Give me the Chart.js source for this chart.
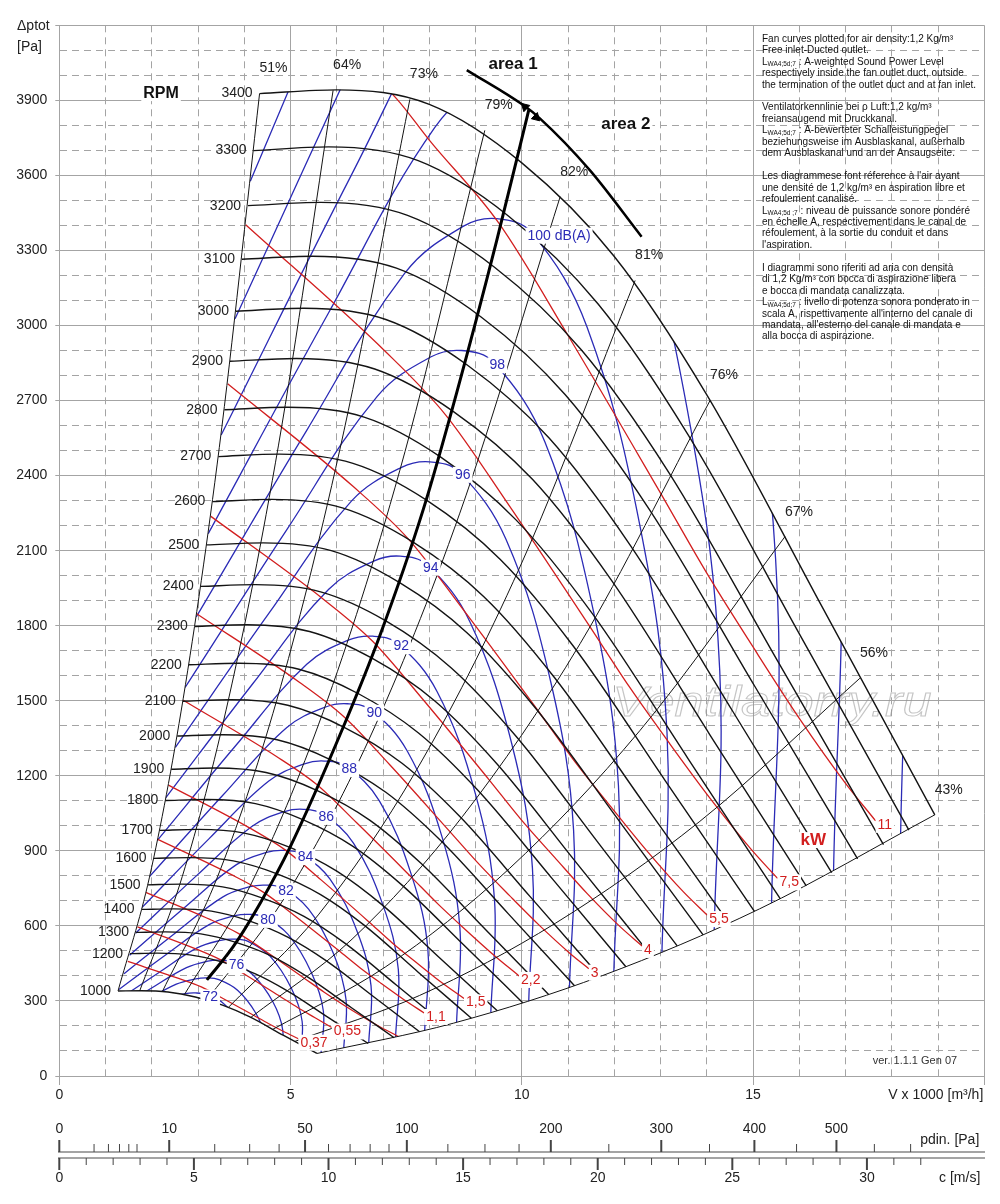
<!DOCTYPE html>
<html>
<head>
<meta charset="utf-8">
<title>Fan curves</title>
<script src="https://cdn.jsdelivr.net/npm/chart.js@4.4.1/dist/chart.umd.min.js"></script>
<style>
  html, body { margin: 0; padding: 0; background: #fff; }
  #wrap { position: relative; width: 1000px; height: 1204px; }
  #main { position: absolute; left: 0; top: 0; }
  #under { position: absolute; left: 0; top: 1100px; }
</style>
</head>
<body>
<div id="wrap">
  <canvas id="main" width="1000" height="1204"></canvas>
  <canvas id="under" width="1000" height="104"></canvas>
</div>
<script>
// ---- fan speed curves (V x 1000 m3/h, total pressure Pa) ----
const rpmValues = [1000, 1200, 1300, 1400, 1500, 1600, 1700, 1800, 1900, 2000, 2100, 2200,
  2300, 2400, 2500, 2600, 2700, 2800, 2900, 3000, 3100, 3200, 3300, 3400];
const rpmFlow = [
  [1.27, 1.77, 2.35, 2.94, 3.53, 4.12, 4.85, 5.57],
  [1.53, 2.12, 2.82, 3.53, 4.24, 4.94, 5.82, 6.68],
  [1.66, 2.29, 3.06, 3.82, 4.59, 5.35, 6.31, 7.24],
  [1.78, 2.47, 3.29, 4.12, 4.94, 5.76, 6.79, 7.79],
  [1.91, 2.65, 3.53, 4.41, 5.29, 6.18, 7.28, 8.35],
  [2.04, 2.82, 3.76, 4.71, 5.65, 6.59, 7.76, 8.91],
  [2.17, 3.00, 4.00, 5.00, 6.00, 7.00, 8.25, 9.47],
  [2.29, 3.18, 4.24, 5.29, 6.35, 7.41, 8.74, 10.02],
  [2.42, 3.35, 4.47, 5.59, 6.71, 7.82, 9.22, 10.58],
  [2.55, 3.53, 4.71, 5.88, 7.06, 8.24, 9.71, 11.14],
  [2.67, 3.71, 4.94, 6.18, 7.41, 8.65, 10.19, 11.69],
  [2.80, 3.88, 5.18, 6.47, 7.76, 9.06, 10.68, 12.25],
  [2.93, 4.06, 5.41, 6.76, 8.12, 9.47, 11.16, 12.81],
  [3.06, 4.24, 5.65, 7.06, 8.47, 9.88, 11.65, 13.36],
  [3.18, 4.41, 5.88, 7.35, 8.82, 10.29, 12.13, 13.92],
  [3.31, 4.59, 6.12, 7.65, 9.18, 10.71, 12.62, 14.48],
  [3.44, 4.76, 6.35, 7.94, 9.53, 11.12, 13.10, 15.03],
  [3.57, 4.94, 6.59, 8.24, 9.88, 11.53, 13.59, 15.59],
  [3.69, 5.12, 6.82, 8.53, 10.24, 11.94, 14.07, 16.15],
  [3.82, 5.29, 7.06, 8.82, 10.59, 12.35, 14.56, 16.70],
  [3.95, 5.47, 7.29, 9.12, 10.94, 12.76, 15.04, 17.26],
  [4.08, 5.65, 7.53, 9.41, 11.29, 13.18, 15.53, 17.82],
  [4.20, 5.82, 7.76, 9.71, 11.65, 13.59, 16.01, 18.37],
  [4.33, 6.00, 8.00, 10.00, 12.00, 14.00, 16.50, 18.93]
];
const rpmPressure = [
  [340, 341, 336, 316, 283, 236, 162, 90],
  [489, 491, 484, 455, 408, 339, 233, 130],
  [574, 576, 568, 534, 479, 398, 274, 153],
  [666, 668, 659, 619, 555, 462, 318, 177],
  [764, 767, 756, 710, 638, 530, 365, 203],
  [870, 873, 860, 808, 725, 603, 415, 231],
  [982, 986, 971, 913, 819, 681, 468, 261],
  [1101, 1105, 1089, 1023, 918, 763, 525, 293],
  [1226, 1231, 1213, 1140, 1023, 850, 585, 326],
  [1359, 1364, 1344, 1263, 1134, 942, 648, 361],
  [1498, 1504, 1482, 1392, 1250, 1039, 715, 398],
  [1644, 1650, 1626, 1528, 1372, 1140, 784, 437],
  [1797, 1804, 1777, 1670, 1499, 1246, 857, 478],
  [1957, 1964, 1935, 1819, 1632, 1357, 933, 520],
  [2123, 2131, 2100, 1973, 1771, 1472, 1013, 564],
  [2296, 2305, 2271, 2134, 1916, 1592, 1095, 611],
  [2476, 2486, 2449, 2302, 2066, 1717, 1181, 658],
  [2663, 2673, 2634, 2475, 2222, 1847, 1270, 708],
  [2857, 2868, 2826, 2655, 2383, 1981, 1363, 760],
  [3057, 3069, 3024, 2842, 2550, 2120, 1458, 813],
  [3265, 3277, 3229, 3034, 2723, 2264, 1557, 868],
  [3479, 3492, 3440, 3233, 2902, 2412, 1659, 925],
  [3699, 3714, 3659, 3438, 3086, 2565, 1764, 983],
  [3927, 3942, 3884, 3650, 3276, 2723, 1873, 1044]
];

// ---- efficiency lines (first = left limit, last = right limit) ----
const effLabels = ['51%', '64%', '73%', '79%', '82%', '81%', '76%', '67%', '56%', '43%'];
const effFlow = [
  [1.27, 1.95, 2.68, 3.46, 4.33],
  [1.74, 2.66, 3.67, 4.74, 5.92],
  [2.23, 3.41, 4.70, 6.06, 7.58],
  [2.71, 4.14, 5.70, 7.36, 9.20],
  [3.19, 4.87, 6.71, 8.66, 10.83],
  [3.66, 5.60, 7.72, 9.96, 12.45],
  [4.14, 6.33, 8.72, 11.26, 14.07],
  [4.61, 7.06, 9.73, 12.55, 15.69],
  [5.09, 7.79, 10.73, 13.85, 17.31],
  [5.57, 8.52, 11.74, 15.14, 18.93]
];
const effPressure = [
  [340, 795, 1510, 2513, 3927],
  [341, 798, 1515, 2522, 3940],
  [338, 791, 1501, 2499, 3904],
  [327, 765, 1453, 2419, 3780],
  [304, 712, 1351, 2250, 3515],
  [275, 644, 1222, 2035, 3180],
  [234, 547, 1038, 1728, 2700],
  [186, 437, 829, 1380, 2156],
  [138, 322, 611, 1018, 1590],
  [90, 211, 401, 668, 1044]
];

// ---- motor power lines, kW ----
const powerLabels = ['0,37', '0,55', '', '1,1', '1,5', '2,2', '3', '4', '5,5', '7,5', '11'];
const powerFlow = [
  [1.48, 2.58, 3.07, 3.55, 4.20, 4.52, 4.84, 5.17],
  [1.69, 2.95, 3.50, 4.05, 4.79, 5.16, 5.53, 5.89],
  [1.87, 3.27, 3.88, 4.50, 5.31, 5.72, 6.13, 6.54, 6.95, 7.21, 7.40],
  [2.13, 3.71, 4.41, 5.11, 6.04, 6.50, 6.96, 7.43, 7.89],
  [2.36, 4.12, 4.89, 5.66, 6.69, 7.20, 7.72, 8.23, 8.75],
  [2.68, 4.68, 5.56, 6.43, 7.60, 8.19, 8.77, 9.36, 9.94],
  [2.97, 5.19, 6.16, 7.14, 8.43, 9.08, 9.73, 10.38, 11.03, 11.45],
  [3.27, 5.71, 6.78, 7.85, 9.28, 9.99, 10.71, 11.42, 12.13, 12.60],
  [3.64, 6.35, 7.54, 8.73, 10.32, 11.11, 11.91, 12.70, 13.49, 14.01],
  [4.03, 7.04, 8.36, 9.68, 11.44, 12.32, 13.20, 14.08, 14.96, 15.53],
  [4.58, 7.30, 8.00, 9.50, 11.00, 13.00, 14.00, 15.00, 16.00, 17.00, 17.65]
];
const powerPressure = [
  [458, 390, 356, 309, 243, 210, 179, 149],
  [596, 508, 463, 402, 316, 273, 233, 194],
  [734, 625, 569, 494, 389, 336, 286, 239, 195, 170, 150],
  [946, 806, 735, 638, 502, 433, 370, 308, 252],
  [1163, 991, 903, 784, 617, 532, 454, 379, 310],
  [1502, 1279, 1166, 1012, 797, 687, 587, 489, 400],
  [1848, 1574, 1435, 1245, 980, 846, 722, 602, 492, 429],
  [2238, 1906, 1737, 1508, 1187, 1024, 874, 728, 596, 520],
  [2767, 2357, 2148, 1865, 1468, 1266, 1080, 901, 737, 643],
  [3403, 2898, 2641, 2293, 1805, 1557, 1328, 1108, 906, 790],
  [4393, 3905, 3741, 3410, 2960, 2330, 2010, 1715, 1430, 1170, 1020]
];

// ---- sound power level curves, dB(A) ----
const soundLevels = [72, 74, 76, 78, 80, 82, 84, 86, 88, 90, 92, 94, 96, 98, 100, 102, 104, 106, 108];
const soundLabels = ['72', '', '76', '', '80', '82', '84', '86', '88', '90', '92', '94', '96', '98', '100 dB(A)', '', '', '', ''];
const soundFlow = [
  [0.92, 1.66, 2.32, 2.72, 2.94, 3.18, 3.55, 3.91, 4.09, 4.05],
  [1.00, 1.81, 2.53, 2.95, 3.20, 3.45, 3.86, 4.25, 4.44, 4.41],
  [1.09, 1.97, 2.75, 3.21, 3.48, 3.75, 4.19, 4.62, 4.83, 4.79],
  [1.18, 2.14, 2.98, 3.49, 3.78, 4.08, 4.56, 5.02, 5.25, 5.21],
  [1.29, 2.32, 3.24, 3.80, 4.11, 4.43, 4.95, 5.45, 5.71, 5.66],
  [1.40, 2.53, 3.53, 4.13, 4.47, 4.82, 5.39, 5.93, 6.20, 6.15],
  [1.52, 2.74, 3.83, 4.48, 4.85, 5.24, 5.85, 6.44, 6.74, 6.69],
  [1.65, 2.98, 4.17, 4.87, 5.28, 5.69, 6.36, 7.00, 7.33, 7.27],
  [1.79, 3.24, 4.53, 5.30, 5.73, 6.19, 6.92, 7.61, 7.97, 7.90],
  [1.95, 3.53, 4.92, 5.76, 6.23, 6.73, 7.52, 8.28, 8.66, 8.59],
  [2.12, 3.83, 5.35, 6.26, 6.78, 7.31, 8.17, 9.00, 9.41, 9.33],
  [2.30, 4.17, 5.82, 6.81, 7.37, 7.95, 8.88, 9.78, 10.23, 10.15],
  [2.51, 4.53, 6.32, 7.40, 8.01, 8.64, 9.66, 10.63, 11.12, 11.03],
  [2.72, 4.92, 6.87, 8.04, 8.70, 9.39, 10.50, 11.55, 12.09, 11.99],
  [2.96, 5.35, 7.47, 8.74, 9.46, 10.21, 11.41, 12.56, 13.14, 13.03],
  [3.22, 5.82, 8.12, 9.50, 10.28, 11.10, 12.40, 13.65, 14.28, 14.16],
  [3.50, 6.32, 8.83, 10.33, 11.18, 12.06, 13.48, 14.84, 15.53, 15.40],
  [3.80, 6.87, 9.59, 11.23, 12.15, 13.11, 14.65, 16.13, 16.88, 16.74],
  [4.13, 7.47, 10.43, 12.20, 13.21, 14.25, 15.93, 17.54, 18.35, 18.19]
];
const soundPressure = [
  [178, 250, 310, 329, 332, 326, 290, 212, 133, 48],
  [210, 295, 367, 388, 392, 385, 342, 251, 157, 56],
  [248, 349, 433, 459, 463, 455, 404, 296, 185, 66],
  [293, 412, 512, 542, 547, 538, 478, 350, 219, 79],
  [346, 487, 605, 641, 646, 636, 565, 414, 259, 93],
  [409, 575, 715, 757, 763, 751, 667, 489, 305, 110],
  [483, 679, 845, 894, 902, 887, 788, 578, 361, 130],
  [571, 803, 998, 1057, 1066, 1048, 931, 682, 426, 153],
  [674, 949, 1179, 1248, 1259, 1239, 1100, 806, 504, 181],
  [797, 1121, 1393, 1475, 1488, 1464, 1300, 953, 595, 214],
  [942, 1324, 1646, 1743, 1758, 1730, 1536, 1126, 703, 252],
  [1112, 1565, 1945, 2059, 2078, 2044, 1815, 1330, 831, 298],
  [1314, 1849, 2299, 2433, 2455, 2415, 2145, 1572, 982, 352],
  [1553, 2184, 2716, 2875, 2900, 2853, 2534, 1857, 1160, 416],
  [1835, 2581, 3209, 3397, 3427, 3371, 2994, 2194, 1371, 492],
  [2168, 3050, 3792, 4014, 4049, 3983, 3538, 2592, 1620, 581],
  [2562, 3603, 4480, 4743, 4784, 4706, 4180, 3063, 1914, 687],
  [3027, 4258, 5294, 5604, 5653, 5561, 4939, 3619, 2262, 812],
  [3577, 5031, 6255, 6621, 6680, 6571, 5836, 4276, 2672, 959]
];

// ---- area 1 / area 2 separation ----
const dividerFlow = [3.19, 3.76, 4.34, 4.99, 6.14, 6.93, 7.87, 8.59, 9.46, 10.15];
const dividerPressure = [384, 517, 690, 915, 1395, 1760, 2265, 2730, 3341, 3861];
const areaFlow = [8.81, 10.03, 10.39, 11.47, 12.59];
const areaPressure = [4021, 3881, 3828, 3621, 3355];
const arrowFlow = [10.07, 10.31];
const arrowPressure = [3874, 3832];

// ---- lower auxiliary scales ----
const flowMax = 20;
const speedAtFlowMax = 34.36;      // c [m/s] at 20 000 m3/h
const pdinTicks = [0, 1, 2, 3, 4, 5, 10, 20, 30, 40, 50, 60, 70, 80, 90, 100, 125, 150, 175, 200,
  250, 300, 350, 400, 450, 500, 550, 600];
const pdinLabelled = [0, 10, 50, 100, 200, 300, 400, 500];
const speedTicks = [0, 1, 2, 3, 4, 5, 6, 7, 8, 9, 10, 11, 12, 13, 14, 15, 16, 17, 18, 19, 20,
  21, 22, 23, 24, 25, 26, 27, 28, 29, 30, 31, 32];

const noteLines = [
  'Fan curves plotted for air density:1,2 Kg/m³',
  'Free inlet-Ducted outlet.',
  ['L', 'WA4;5d;7', ' : A-weighted Sound Power Level'],
  'respectively inside the fan outlet duct, outside',
  'the termination of the outlet duct and at fan inlet.',
  '',
  'Ventilatorkennlinie bei ρ Luft:1,2 kg/m³',
  'freiansaugend mit Druckkanal.',
  ['L', 'WA4;5d;7', ' : A-bewerteter Schalleistungpegel'],
  'beziehungsweise im Ausblaskanal, außerhalb',
  'dem Ausblaskanal und an der Ansaugseite.',
  '',
  'Les diagrammese font réference à l\'air ayant',
  'une densité de 1,2 kg/m³ en aspiration libre et',
  'refoulement canalisé.',
  ['L', 'WA4;5d ;7', ' : niveau de puissance sonore pondéré'],
  'en échelle A, respectivement dans le canal de',
  'réfoulement, à la sortie du conduit et dans',
  'l\'aspiration.',
  '',
  'I diagrammi sono riferiti ad aria con densità',
  'di 1,2 Kg/m³ con bocca di aspirazione libera',
  'e bocca di mandata canalizzata.',
  ['L', 'WA4;5d;7', ' : livello di potenza sonora ponderato in'],
  'scala A, rispettivamente all\'interno del canale di',
  'mandata, all\'esterno del canale di mandata e',
  'alla bocca di aspirazione.'
];

const FONT = "'Liberation Sans', Arial, Helvetica, sans-serif";
const GRID = '#a4a4a4';
const BLACK = '#141414';
const BLUE = '#2b2bb6';
const RED = '#d21f1f';

function pts(xs, ys) {
  return xs.map((x, i) => ({ x: x, y: ys[i] }));
}

const datasets = [];
function addLine(xs, ys, color, width, order, extra) {
  datasets.push(Object.assign({
    data: pts(xs, ys),
    showLine: true,
    borderColor: color,
    backgroundColor: color,
    borderWidth: width,
    pointRadius: 0,
    pointHoverRadius: 0,
    pointHitRadius: 0,
    fill: false,
    order: order,
    cubicInterpolationMode: 'monotone'
  }, extra || {}));
  return datasets.length - 1;
}

const rpmIdx = rpmValues.map((n, i) => addLine(rpmFlow[i], rpmPressure[i], BLACK, 1.4, 2));
const effIdx = effLabels.map((l, i) => addLine(effFlow[i], effPressure[i], BLACK, 1, 2));
const powerIdx = powerLabels.map((l, i) =>
  addLine(powerFlow[i], powerPressure[i], RED, 1.3, 3, { clipRegion: true }));
const soundIdx = soundLevels.map((l, i) =>
  addLine(soundFlow[i], soundPressure[i], BLUE, 1.3, 4,
    { clipRegion: true, cubicInterpolationMode: 'default', tension: 0.38 }));
addLine(dividerFlow, dividerPressure, '#000', 3, 1);
addLine(areaFlow, areaPressure, '#000', 2.5, 1);
datasets.push({
  data: pts(arrowFlow, arrowPressure),
  showLine: false,
  pointStyle: 'triangle',
  pointRadius: 5,
  pointRotation: [-46, 134],
  backgroundColor: '#000',
  borderColor: '#000',
  borderWidth: 1,
  order: 0
});

// working field: left limit, top speed, right limit, lowest speed
const regionParts = [
  [effIdx[0], false],
  [rpmIdx[rpmIdx.length - 1], false],
  [effIdx[effIdx.length - 1], true],
  [rpmIdx[0], true]
];

function regionPath(chart) {
  const ctx = chart.ctx;
  let first = true;
  ctx.beginPath();
  regionParts.forEach(([i, rev]) => {
    const meta = chart.getDatasetMeta(i);
    meta.dataset.updateControlPoints(chart.chartArea, 'x');
    const list = rev ? meta.data.slice().reverse() : meta.data;
    list.forEach((pt, k) => {
      if (k === 0) {
        if (first) { ctx.moveTo(pt.x, pt.y); first = false; } else { ctx.lineTo(pt.x, pt.y); }
        return;
      }
      const prev = list[k - 1];
      if (rev) {
        ctx.bezierCurveTo(prev.cp1x, prev.cp1y, pt.cp2x, pt.cp2y, pt.x, pt.y);
      } else {
        ctx.bezierCurveTo(prev.cp2x, prev.cp2y, pt.cp1x, pt.cp1y, pt.x, pt.y);
      }
    });
  });
  ctx.closePath();
}

const clipPlugin = {
  id: 'regionClip',
  beforeDatasetDraw(chart, args) {
    const ds = chart.data.datasets[args.index];
    if (!ds.clipRegion) return;
    chart.ctx.save();
    regionPath(chart);
    chart.ctx.clip();
  },
  afterDatasetDraw(chart, args) {
    const ds = chart.data.datasets[args.index];
    if (ds.clipRegion) chart.ctx.restore();
  }
};

function at(chart, v, p) {
  return [chart.scales.x.getPixelForValue(v), chart.scales.y.getPixelForValue(p)];
}

function boxed(ctx, text, x, y, color, font, align) {
  ctx.font = font;
  const w = ctx.measureText(text).width;
  const x0 = align === 'left' ? x : align === 'right' ? x - w : x - w / 2;
  ctx.fillStyle = '#fff';
  ctx.fillRect(x0 - 2, y - 8, w + 4, 16);
  ctx.fillStyle = color;
  ctx.textAlign = 'left';
  ctx.textBaseline = 'middle';
  ctx.fillText(text, x0, y);
}

const textPlugin = {
  id: 'chartText',
  beforeDatasetsDraw(chart) {
    const ctx = chart.ctx;
    const [wx, wy] = at(chart, 15.41, 1439);
    ctx.save();
    ctx.font = 'italic 42px ' + FONT;
    const w = ctx.measureText('Ventilatorry.ru').width;
    ctx.translate(wx, wy);
    ctx.scale(319 / w, 1);
    ctx.strokeStyle = 'rgba(150,150,150,0.55)';
    ctx.lineWidth = 1;
    ctx.textAlign = 'center';
    ctx.textBaseline = 'alphabetic';
    ctx.strokeText('Ventilatorry.ru', 0, 0);
    ctx.restore();
  },
  afterDatasetsDraw(chart) {
    const ctx = chart.ctx;
    ctx.save();
    const f14 = '14px ' + FONT;

    // speed labels at the start of each curve
    ctx.font = f14;
    ctx.fillStyle = '#222';
    ctx.textAlign = 'right';
    ctx.textBaseline = 'middle';
    rpmIdx.forEach((di, i) => {
      const p0 = chart.getDatasetMeta(di).data[0];
      ctx.fillText(String(rpmValues[i]), p0.x - 7, p0.y);
    });

    // efficiency labels beyond the top speed curve
    ctx.textAlign = 'center';
    effIdx.forEach((di, i) => {
      const d = chart.getDatasetMeta(di).data;
      const pe = d[d.length - 1];
      ctx.fillText(effLabels[i], pe.x + 14, pe.y - 25);
    });

    // sound level labels
    soundIdx.forEach((di, i) => {
      if (!soundLabels[i]) return;
      const pk = chart.getDatasetMeta(di).data[5];
      boxed(ctx, soundLabels[i], pk.x - 4, pk.y + 3, BLUE, f14, 'left');
    });

    // power labels
    powerIdx.forEach((di, i) => {
      if (!powerLabels[i]) return;
      const d = chart.getDatasetMeta(di).data;
      const pe = d[d.length - 1];
      boxed(ctx, powerLabels[i], pe.x + 2, pe.y + 4, RED, f14, 'left');
    });

    let q = at(chart, 16.3, 943);
    boxed(ctx, 'kW', q[0], q[1], RED, 'bold 17px ' + FONT, 'center');
    q = at(chart, 2.2, 3929);
    boxed(ctx, 'RPM', q[0], q[1], '#111', 'bold 16px ' + FONT, 'center');
    q = at(chart, 9.81, 4045);
    boxed(ctx, 'area 1', q[0], q[1], '#111', 'bold 17px ' + FONT, 'center');
    q = at(chart, 12.25, 3805);
    boxed(ctx, 'area 2', q[0], q[1], '#111', 'bold 17px ' + FONT, 'center');

    q = at(chart, 18.5, 60);
    ctx.font = '11px ' + FONT;
    ctx.fillStyle = '#333';
    ctx.textAlign = 'center';
    ctx.fillText('ver. 1.1.1 Gen 07', q[0], q[1]);

    // notes block
    const x0 = 762;
    noteLines.forEach((ln, i) => {
      const y = 39 + i * 11.45;
      ctx.fillStyle = '#111';
      ctx.textAlign = 'left';
      ctx.textBaseline = 'middle';
      if (typeof ln === 'string') {
        ctx.font = '10px ' + FONT;
        ctx.fillText(ln, x0, y);
      } else {
        ctx.font = '10px ' + FONT;
        ctx.fillText(ln[0], x0, y);
        let xx = x0 + ctx.measureText(ln[0]).width;
        ctx.font = '6.5px ' + FONT;
        ctx.fillText(ln[1], xx, y + 2.5);
        xx += ctx.measureText(ln[1]).width;
        ctx.font = '10px ' + FONT;
        ctx.fillText(ln[2], xx, y);
      }
    });
    ctx.restore();
  },
  afterDraw(chart) {
    const ctx = chart.ctx;
    ctx.save();
    ctx.font = '14px ' + FONT;
    ctx.fillStyle = '#222';
    ctx.textBaseline = 'middle';
    ctx.textAlign = 'left';
    ctx.fillText('Δptot', 17, 26);
    ctx.fillText('[Pa]', 17, 47);
    ctx.textAlign = 'right';
    ctx.fillText('V x 1000 [m³/h]', chart.chartArea.right - 1, 1095);
    ctx.restore();
  }
};

const yTickValues = [];
for (let v = 0; v <= 4200; v += 100) yTickValues.push(v);
const xTickValues = [];
for (let v = 0; v <= flowMax; v += 1) xTickValues.push(v);

new Chart(document.getElementById('main'), {
  type: 'scatter',
  data: { datasets: datasets },
  options: {
    responsive: false,
    animation: false,
    events: [],
    layout: { padding: { left: 0, top: 25.3, right: 15.7, bottom: 98 } },
    elements: { line: { capBezierPoints: false } },
    plugins: { legend: { display: false }, tooltip: { enabled: false } },
    scales: {
      x: {
        type: 'linear', min: 0, max: flowMax,
        afterBuildTicks: s => { s.ticks = xTickValues.map(v => ({ value: v })); },
        afterFit: s => { s.height = 30; },
        ticks: {
          autoSkip: false, maxRotation: 0, padding: 2, color: '#222',
          font: { family: FONT, size: 14 },
          callback: v => (v % 5 === 0 && v < flowMax) ? String(v) : ''
        },
        grid: {
          color: GRID, lineWidth: 1, tickLength: 9,
          tickColor: c => (c.tick && c.tick.value % 5 === 0) ? GRID : 'rgba(0,0,0,0)'
        },
        border: { color: GRID, dash: c => (c.tick && c.tick.value % 5 !== 0) ? [7, 5] : [] }
      },
      y: {
        type: 'linear', min: 0, max: 4200,
        afterBuildTicks: s => { s.ticks = yTickValues.map(v => ({ value: v })); },
        afterFit: s => { s.width = 59.3; },
        ticks: {
          autoSkip: false, padding: 8, color: '#222',
          font: { family: FONT, size: 14 },
          callback: v => (v % 300 === 0 && v < 4200) ? String(v) : ''
        },
        grid: {
          color: GRID, lineWidth: 1, tickLength: 4,
          tickColor: c => (c.tick && c.tick.value % 300 === 0) ? GRID : 'rgba(0,0,0,0)'
        },
        border: { color: GRID, dash: c => (c.tick && c.tick.value % 300 !== 0) ? [7, 5] : [] }
      }
    }
  },
  plugins: [clipPlugin, textPlugin]
});

// ---- dynamic pressure and air speed scales ----
const underPlugin = {
  id: 'underTicks',
  afterDraw(chart) {
    const ctx = chart.ctx;
    const pd = chart.scales.pd;
    const cs = chart.scales.c;
    ctx.save();
    ctx.strokeStyle = '#444';
    pd.ticks.forEach((t, i) => {
      const xx = pd.getPixelForTick(i);
      const major = pdinLabelled.includes(pdinTicks[i]);
      ctx.lineWidth = major ? 2 : 1;
      ctx.beginPath();
      ctx.moveTo(xx, pd.bottom);
      ctx.lineTo(xx, pd.bottom - (major ? 12 : 8));
      ctx.stroke();
    });
    cs.ticks.forEach((t, i) => {
      const xx = cs.getPixelForTick(i);
      const major = speedTicks[i] % 5 === 0;
      ctx.lineWidth = major ? 2 : 1;
      ctx.beginPath();
      ctx.moveTo(xx, cs.top);
      ctx.lineTo(xx, cs.top + (major ? 12 : 7));
      ctx.stroke();
    });
    ctx.font = '14px ' + FONT;
    ctx.fillStyle = '#222';
    ctx.textAlign = 'right';
    ctx.textBaseline = 'middle';
    ctx.fillText('pdin. [Pa]', chart.chartArea.right - 5, 40);
    ctx.fillText('c [m/s]', chart.chartArea.right - 4, 78);
    ctx.restore();
  }
};

new Chart(document.getElementById('under'), {
  type: 'scatter',
  data: { datasets: [] },
  options: {
    responsive: false,
    animation: false,
    events: [],
    layout: { padding: { left: 59.3, right: 15.7, top: 10, bottom: 10 } },
    plugins: { legend: { display: false }, tooltip: { enabled: false } },
    scales: {
      x: { display: false },
      y: { display: false },
      pd: {
        type: 'linear', position: 'top', min: 0, max: speedAtFlowMax,
        afterBuildTicks: s => { s.ticks = pdinTicks.map(p => ({ value: Math.sqrt(p / 0.6) })); },
        afterFit: s => { s.height = 42; },
        grid: { display: true, drawOnChartArea: false, drawTicks: false },
        border: { display: true, color: GRID, width: 2 },
        ticks: {
          autoSkip: false, maxRotation: 0, padding: 14, color: '#222',
          font: { family: FONT, size: 14 },
          callback: (v, i) => pdinLabelled.includes(pdinTicks[i]) ? String(pdinTicks[i]) : ''
        }
      },
      c: {
        type: 'linear', position: 'bottom', min: 0, max: speedAtFlowMax,
        afterBuildTicks: s => { s.ticks = speedTicks.map(v => ({ value: v })); },
        afterFit: s => { s.height = 36; },
        grid: { display: true, drawOnChartArea: false, drawTicks: false },
        border: { display: true, color: GRID, width: 2 },
        ticks: {
          autoSkip: false, maxRotation: 0, padding: 12, color: '#222',
          font: { family: FONT, size: 14 },
          callback: v => (v % 5 === 0) ? String(v) : ''
        }
      }
    }
  },
  plugins: [underPlugin]
});
</script>
</body>
</html>
